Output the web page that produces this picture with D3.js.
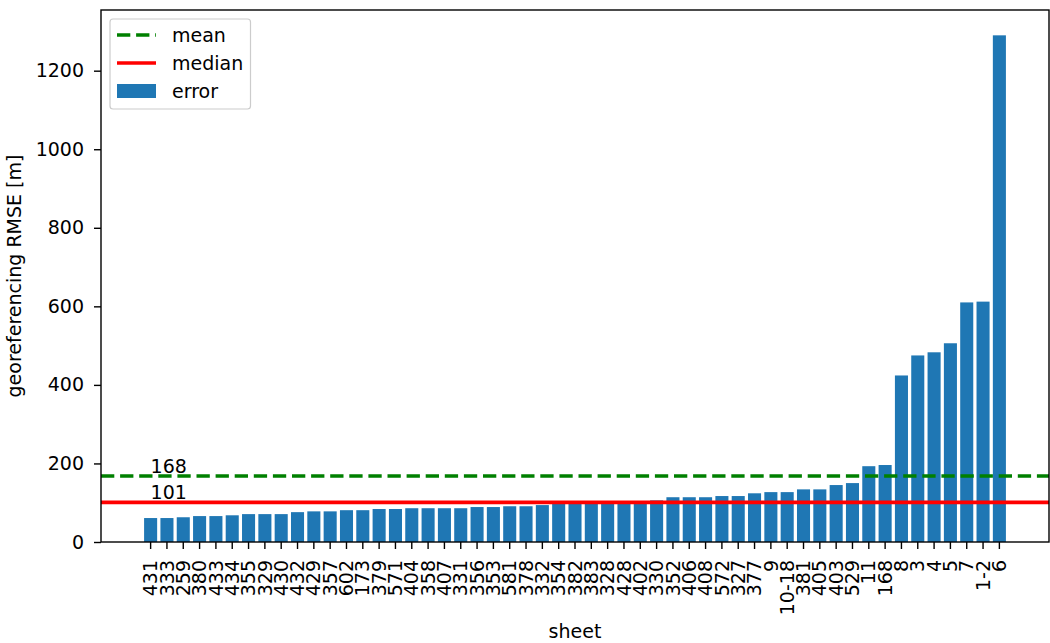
<!DOCTYPE html>
<html>
<head>
<meta charset="utf-8">
<script src="https://cdn.jsdelivr.net/npm/d3@7"></script>
<style>
  html, body { margin: 0; padding: 0; background: #fff; }
  svg { display: block; font-family: "DejaVu Sans", sans-serif; }
</style>
</head>
<body>
<svg id="chart" width="1050" height="643"></svg>
<script>
const sheets = ["431","333","259","380","433","434","355","329","430","432","429","357","602","173","379","571","404","358","407","331","356","353","581","378","332","354","382","383","328","428","402","330","352","406","408","572","327","377","9","10-18","381","405","403","529","11","168","8","3","4","5","7","1-2","6"];
const errors = [61,61,63,66,66,68,71,71,71,76,78,78,81,81,84,84,86,86,86,86,89,89,91,91,94,99,100,101,101,102,103,106,114,114,114,117,117,124,127,127,134,134,145,150,193,196,424,475,483,506,610,612,1290];
const meanValue = 168;
const medianValue = 101;
const yTicks = [0,200,400,600,800,1000,1200];

const svg = d3.select("#chart");
const L = 101, R = 1049, T = 10, B = 542;
const FS = 19;

const x = d3.scaleBand().domain(sheets).range([L, R]).paddingInner(0.2).paddingOuter(2.64);
const y = d3.scaleLinear().domain([0, d3.max(errors) * 1.05]).range([B, T]);

// bars
svg.append("g").selectAll("rect").data(errors).join("rect")
  .attr("x", (d, i) => x(sheets[i]))
  .attr("width", x.bandwidth())
  .attr("y", d => y(d))
  .attr("height", d => y(0) - y(d))
  .attr("fill", "#1f77b4");

// mean line
svg.append("line").attr("x1", L).attr("x2", R).attr("y1", y(meanValue)).attr("y2", y(meanValue))
  .attr("stroke", "green").attr("stroke-width", 3.6).attr("stroke-dasharray", "13.3 5.8");
// median line
svg.append("line").attr("x1", L).attr("x2", R).attr("y1", y(medianValue)).attr("y2", y(medianValue))
  .attr("stroke", "red").attr("stroke-width", 3.6);

const x0 = x(sheets[0]) + x.bandwidth() / 2;
svg.append("text").attr("x", x0).attr("y", y(meanValue) - 3).attr("font-size", FS).attr("fill", "#000").text(String(meanValue));
svg.append("text").attr("x", x0).attr("y", y(medianValue) - 3).attr("font-size", FS).attr("fill", "#000").text(String(medianValue));

// axes
const xAxis = svg.append("g").attr("transform", `translate(0,${B})`)
  .call(d3.axisBottom(x).tickSize(7).tickPadding(4));
xAxis.select(".domain").remove();
xAxis.selectAll(".tick line").attr("stroke", "#000").attr("stroke-width", 1.4);
xAxis.selectAll(".tick text")
  .attr("font-size", FS).attr("font-family", "DejaVu Sans").attr("fill", "#000")
  .attr("transform", "rotate(-90)")
  .attr("text-anchor", "end")
  .attr("x", -18).attr("y", 0).attr("dy", "0.35em");

const yAxis = svg.append("g").attr("transform", `translate(${L},0)`)
  .call(d3.axisLeft(y).tickValues(yTicks).tickFormat(d3.format("d")).tickSize(7).tickPadding(10));
yAxis.select(".domain").remove();
yAxis.selectAll(".tick line").attr("stroke", "#000").attr("stroke-width", 1.4);
yAxis.selectAll(".tick text").attr("font-size", FS).attr("font-family", "DejaVu Sans").attr("fill", "#000");

// frame
svg.append("rect").attr("x", L).attr("y", T).attr("width", R - L).attr("height", B - T)
  .attr("fill", "none").attr("stroke", "#000").attr("stroke-width", 1.4);

// axis labels
svg.append("text").attr("x", (L + R) / 2).attr("y", 638).attr("text-anchor", "middle")
  .attr("font-size", FS).text("sheet");
svg.append("text").attr("transform", `translate(21,${(T + B) / 2}) rotate(-90)`)
  .attr("text-anchor", "middle").attr("font-size", FS).text("georeferencing RMSE [m]");

// legend
const lg = svg.append("g");
lg.append("rect").attr("x", 110).attr("y", 19).attr("width", 140.5).attr("height", 90).attr("rx", 3)
  .attr("fill", "#fff").attr("fill-opacity", 0.8).attr("stroke", "#ccc").attr("stroke-width", 1.2);
const items = [
  {label: "mean", type: "dash", color: "green"},
  {label: "median", type: "line", color: "red"},
  {label: "error", type: "patch", color: "#1f77b4"}
];
items.forEach((it, i) => {
  const cy = 35 + i * 28;
  if (it.type === "patch") {
    lg.append("rect").attr("x", 117).attr("y", cy - 7).attr("width", 39).attr("height", 14).attr("fill", it.color);
  } else {
    const ln = lg.append("line").attr("x1", 117).attr("x2", 156).attr("y1", cy).attr("y2", cy)
      .attr("stroke", it.color).attr("stroke-width", 3.6);
    if (it.type === "dash") ln.attr("stroke-dasharray", "13.3 5.8");
  }
  lg.append("text").attr("x", 172).attr("y", cy).attr("dy", "0.35em").attr("font-size", FS).text(it.label);
});
</script>
</body>
</html>
